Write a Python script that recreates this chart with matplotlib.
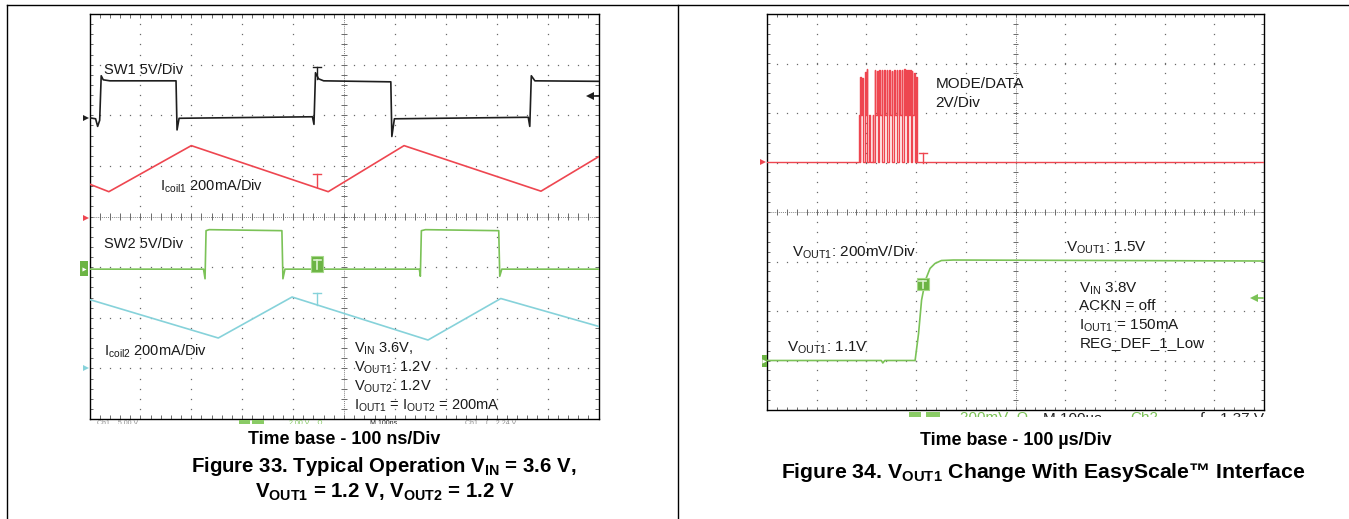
import numpy as np
import matplotlib
matplotlib.use("Agg")
import matplotlib.pyplot as plt
from matplotlib.patches import Rectangle
from matplotlib.lines import Line2D

plt.rcParams['font.family'] = ['Liberation Sans', 'DejaVu Sans']
plt.rcParams['mathtext.fontset'] = 'custom'
plt.rcParams['mathtext.rm'] = 'Liberation Sans'
plt.rcParams['mathtext.it'] = 'Liberation Sans:italic'
plt.rcParams['mathtext.bf'] = 'Liberation Sans:bold'

W, H = 1349, 519

# ---- Figure 33: traces in scope divisions (10 x 8) ----
sw1_t = [0.00, 0.12, 0.16, 0.20, 0.23, 0.27, 0.40, 1.70, 1.72, 1.76, 4.38, 4.41,
         4.44, 4.50, 4.60, 5.92, 5.94, 5.99, 8.62, 8.65, 8.68, 8.75, 10.0]
sw1_v = [5.95, 5.93, 5.78, 5.90, 6.78, 6.70, 6.68, 6.68, 5.71, 5.94, 5.97, 5.82,
         6.84, 6.72, 6.68, 6.66, 5.58, 5.93, 5.96, 5.78, 6.78, 6.68, 6.67]

coil1_t = [0.00, 0.38, 2.00, 4.69, 6.18, 8.87, 10.0]
coil1_v = [4.64, 4.49, 5.40, 4.49, 5.40, 4.50, 5.18]

sw2_t = [0.00, 2.24, 2.27, 2.29, 2.35, 3.78, 3.80, 3.84, 6.48, 6.50, 6.52, 6.60,
         8.04, 8.06, 8.10, 10.0]
sw2_v = [2.96, 2.96, 2.77, 3.72, 3.74, 3.72, 2.77, 2.96, 2.96, 2.82, 3.72, 3.74,
         3.72, 2.82, 2.96, 2.96]

coil2_t = [0.00, 2.53, 3.98, 6.65, 8.08, 10.0]
coil2_v = [2.36, 1.60, 2.41, 1.56, 2.38, 1.83]

# ---- Figure 34 ----
mode_base = 5.02
burst_t = [1.86, 1.88, 1.92, 1.97, 2.01, 2.06, 2.13, 2.17, 2.22, 2.26, 2.31, 2.36,
           2.41, 2.46, 2.51, 2.56, 2.61, 2.66, 2.71, 2.76, 2.80, 2.84, 2.88, 2.91,
           2.96, 3.00]
burst_top = [5.95, 6.73, 6.70, 6.83, 6.89, 5.96, 5.96, 6.86, 6.84, 6.87, 6.86, 6.87,
             6.86, 6.87, 6.85, 6.87, 6.86, 6.87, 6.86, 6.88, 6.86, 6.87, 6.86, 6.85,
             6.80, 6.72]
burst_low = [5.02, 5.96, 5.02, 5.96, 5.02, 5.02, 5.02, 5.96, 5.02, 5.96, 5.02, 5.96,
             5.02, 5.96, 5.02, 5.96, 5.02, 5.96, 5.02, 5.96, 5.02, 5.96, 5.02, 5.96,
             5.02, 5.02]

vout_t = [0.00, 2.30, 2.33, 2.37, 2.98, 3.05, 3.11, 3.19, 3.28, 3.38, 3.51, 3.75, 10.0]
vout_v = [1.00, 1.00, 0.95, 1.00, 1.00, 1.55, 2.22, 2.63, 2.86, 2.96, 3.02, 3.03, 3.01]

RED = '#ee4650'
GREEN = '#7bc257'
CYAN = '#86d2da'
BLACK = '#1e1e1e'
TRACE_LW = 1.2


def fx(px):
    return px / W


def fy(py):
    return 1 - py / H


def scope_axes(fig, x0, y0, x1, y1):
    ax = fig.add_axes([fx(x0), fy(y1), (x1 - x0) / W, (y1 - y0) / H])
    ax.set_xlim(0, 10)
    ax.set_ylim(0, 8)
    ax.set_xticks([])
    ax.set_yticks([])
    for s in ax.spines.values():
        s.set_linewidth(1.0)
        s.set_color('black')
    mx = np.arange(0.2, 10, 0.2)
    my = np.arange(0.2, 8, 0.2)
    gc = '#6a6a6a'
    for i in [1, 2, 3, 4, 6, 7, 8, 9]:
        ax.plot(np.full_like(my, i), my, ls='none', marker='s', ms=0.9, mew=0, color=gc)
    for j in [1, 2, 3, 5, 6, 7]:
        ax.plot(mx, np.full_like(mx, j), ls='none', marker='s', ms=0.9, mew=0, color=gc)
    ax.axvline(5, color='#888888', lw=0.7, ls=(0, (1, 1)))
    ax.axhline(4, color='#888888', lw=0.7, ls=(0, (1, 1)))
    ax.vlines(mx, 4 - 0.06, 4 + 0.06, color=gc, lw=0.7)
    ax.hlines(my, 5 - 0.06, 5 + 0.06, color=gc, lw=0.7)
    ax.vlines(mx, 0, 0.07, color=gc, lw=0.7)
    ax.vlines(mx, 8 - 0.07, 8, color=gc, lw=0.7)
    ax.hlines(my, 0, 0.07, color=gc, lw=0.7)
    ax.hlines(my, 10 - 0.07, 10, color=gc, lw=0.7)
    return ax


def trig_T(ax, x, ytop, ybot, color, half=0.08, lw=1.0):
    ax.plot([x - half, x + half], [ytop, ytop], color=color, lw=lw, zorder=6)
    ax.plot([x, x], [ytop, ybot], color=color, lw=lw, zorder=6)


def trig_box(ax, x0, x1, y0, y1):
    ax.add_patch(Rectangle((x0, y0), x1 - x0, y1 - y0, facecolor='#6cb444',
                           edgecolor='#a6d98a', lw=0.8, zorder=6))
    xm = (x0 + x1) / 2
    trig_T(ax, xm, y0 + 0.78 * (y1 - y0), y0 + 0.15 * (y1 - y0), '#dcf2cf',
           half=0.3 * (x1 - x0), lw=1.2)


def ground_box(ax, x0, x1, y0, y1):
    ax.add_patch(Rectangle((x0, y0), x1 - x0, y1 - y0, facecolor='#6cb444',
                           edgecolor='none', clip_on=False, zorder=6))
    ax.plot((x0 + x1) / 2, (y0 + y1) / 2, marker='>', ms=3, color='white',
            mew=0, clip_on=False, zorder=7)


fig = plt.figure(figsize=(W / 100, H / 100), dpi=100)

# page frame
for xs, ys in [([fx(6.5), 1.0], [fy(4.5), fy(4.5)]),
               ([fx(6.5), fx(6.5)], [fy(4.5), 0.0]),
               ([fx(677.7), fx(677.7)], [fy(4.5), 0.0])]:
    fig.add_artist(Line2D(xs, ys, transform=fig.transFigure, color='black', lw=1.0))

# ---------------- left scope ----------------
axL = scope_axes(fig, 89.5, 14, 598.5, 419)
axL.plot(sw1_t, sw1_v, color=BLACK, lw=TRACE_LW, zorder=4)
axL.plot(coil1_t, coil1_v, color=RED, lw=TRACE_LW, zorder=4)
axL.plot(sw2_t, sw2_v, color=GREEN, lw=TRACE_LW, zorder=4)
axL.plot(coil2_t, coil2_v, color=CYAN, lw=TRACE_LW, zorder=4)

trig_T(axL, 4.47, 6.96, 6.72, BLACK)
trig_T(axL, 4.47, 4.84, 4.58, RED)
trig_T(axL, 4.47, 2.49, 2.25, CYAN)
trig_box(axL, 4.36, 4.59, 2.91, 3.21)

axL.plot(-0.06, 5.95, marker='>', ms=4, color=BLACK, mew=0, clip_on=False)
axL.plot(-0.06, 3.97, marker='>', ms=4, color=RED, mew=0, clip_on=False)
axL.plot(-0.06, 1.01, marker='>', ms=4, color=CYAN, mew=0, clip_on=False)
ground_box(axL, -0.19, -0.02, 2.82, 3.12)
axL.plot([9.84, 10.0], [6.38, 6.38], color=BLACK, lw=1.2, zorder=6)
axL.plot(9.84, 6.38, marker='<', ms=6, color=BLACK, mew=0, zorder=6)

lab = dict(fontsize=10.5, color='#1a1a1a', va='baseline', ha='left')
fig.text(fx(103.6), fy(74), 'SW1 5V/Div', **lab)
fig.text(fx(160), fy(191), r'I$_{\mathrm{coil1}}$ 200mA/Div', **lab)
fig.text(fx(103.6), fy(248), 'SW2 5V/Div', **lab)
fig.text(fx(103.6), fy(356), r'I$_{\mathrm{coil2}}$ 200mA/Div', **lab)
fig.text(fx(353.6), fy(352.6), r'V$_{\mathrm{IN}}$ 3.6V,', **lab)
fig.text(fx(353.6), fy(372), r'V$_{\mathrm{OUT1}}$: 1.2V', **lab)
fig.text(fx(353.6), fy(390.7), r'V$_{\mathrm{OUT2}}$: 1.2V', **lab)
fig.text(fx(353.6), fy(410), r'I$_{\mathrm{OUT1}}$ = I$_{\mathrm{OUT2}}$ = 200mA', **lab)

# ---------------- right scope ----------------
axR = scope_axes(fig, 767, 14, 1264, 410)
mode_t = [0.0, burst_t[0]]
mode_v = [mode_base, mode_base]
prev = mode_base
for t, top, low in zip(burst_t, burst_top, burst_low):
    mode_t += [t, t, t + 0.012, t + 0.012]
    mode_v += [prev, top, top, low]
    prev = low
mode_t += [burst_t[-1] + 0.03, 10.0]
mode_v += [mode_base, mode_base]
axR.plot(mode_t, mode_v, color=RED, lw=1.0, zorder=4)
axR.plot(vout_t, vout_v, color=GREEN, lw=TRACE_LW, zorder=4)

trig_T(axR, 3.13, 5.19, 4.98, RED)
trig_box(axR, 3.02, 3.25, 2.42, 2.67)
axR.plot(-0.08, 5.02, marker='>', ms=4, color=RED, mew=0, clip_on=False)
ground_box(axR, -0.11, -0.01, 0.86, 1.12)
axR.plot([9.8, 9.98], [2.26, 2.26], color=GREEN, lw=1.2, zorder=6)
axR.plot(9.8, 2.26, marker='<', ms=6, color=GREEN, mew=0, zorder=6)

labR = dict(fontsize=11, color='#1a1a1a', va='baseline', ha='left')
fig.text(fx(935.7), fy(88.3), 'MODE/DATA', **labR)
fig.text(fx(935.7), fy(107.3), '2V/Div', **labR)
fig.text(fx(792.3), fy(257), r'V$_{\mathrm{OUT1}}$: 200mV/Div', **labR)
fig.text(fx(1066), fy(251.7), r'V$_{\mathrm{OUT1}}$: 1.5V', **labR)
fig.text(fx(1079.3), fy(292.3), r'V$_{\mathrm{IN}}$ 3.8V', **labR)
fig.text(fx(1079.3), fy(310), 'ACKN = off', **labR)
fig.text(fx(1079.3), fy(329.3), r'I$_{\mathrm{OUT1}}$ = 150mA', **labR)
fig.text(fx(1079.3), fy(347.3), 'REG_DEF_1_Low', **labR)
fig.text(fx(786.7), fy(351.7), r'V$_{\mathrm{OUT1}}$: 1.1V', **labR)


# clipped readout rows just under the scope screens
def readout(row_top, band, size, items, boxes):
    clip = Rectangle((0, fy(row_top + band)), 1, band / H, transform=fig.transFigure,
                     facecolor='none', edgecolor='none')
    fig.add_artist(clip)
    for x, s, c in items:
        t = fig.text(fx(x), fy(row_top), s, color=c, fontsize=size, va='top', ha='left')
        t.set_clip_path(clip)
    for x0, x1 in boxes:
        fig.add_artist(Rectangle((fx(x0), fy(row_top + band)), (x1 - x0) / W, band / H,
                                 transform=fig.transFigure, facecolor='#8acb66',
                                 edgecolor='none'))


readout(419.6, 4.5, 5,
        [(97, 'Ch1    5.00 V', '#8a8a8a'), (289, '2.00 V    Ω', GREEN),
         (370, 'M 100ns', BLACK), (465, 'Ch1    ∫    2.24 V', '#8a8a8a')],
        [(239, 250), (252, 264)])
readout(411.5, 5.5, 11,
        [(960, '200mV  Ω', GREEN), (1043, 'M 100µs', BLACK),
         (1130, 'Ch2', GREEN), (1200, '∫    1.37 V', BLACK)],
        [(909, 921), (926, 940)])

# captions
cap = dict(ha='center', va='baseline', fontweight='bold', color='black')
fig.text(fx(344), fy(444), 'Time base - 100 ns/Div', fontsize=12.9, **cap)
fig.text(fx(383.6), fy(472), r'Figure 33. Typical Operation V$_{\mathbf{IN}}$ = 3.6 V,',
         fontsize=14.7, **cap)
fig.text(fx(385), fy(497.6), r'V$_{\mathbf{OUT1}}$ = 1.2 V, V$_{\mathbf{OUT2}}$ = 1.2 V',
         fontsize=14.7, **cap)
fig.text(fx(1015.5), fy(445), 'Time base - 100 µs/Div', fontsize=12.9, **cap)
fig.text(fx(1043), fy(477.5), r'Figure 34. V$_{\mathbf{OUT1}}$ Change With EasyScale™ Interface',
         fontsize=15.3, **cap)

fig.savefig('out.png', dpi=100)
